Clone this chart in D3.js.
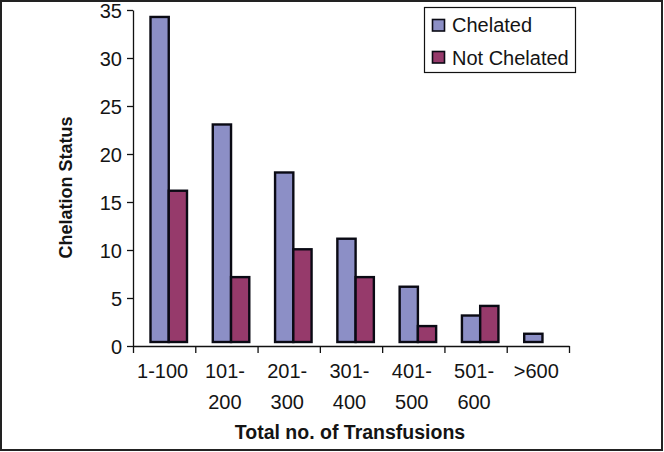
<!DOCTYPE html>
<html>
<head>
<meta charset="utf-8">
<script src="https://cdn.jsdelivr.net/npm/d3@7"></script>
<style>
  body { margin: 0; background: #fff; }
  svg text { font-family: "Liberation Sans", Arial, sans-serif; fill: #141414; }
</style>
</head>
<body>
<script>
// values
const categories = ["1-100", "101-200", "201-300", "301-400", "401-500", "501-600", ">600"];
const tickLines = [["1-100"], ["101-", "200"], ["201-", "300"], ["301-", "400"], ["401-", "500"], ["501-", "600"], [">600"]];
const series = ["Chelated", "Not Chelated"];
const chelated = [34.4, 23.2, 18.2, 11.3, 6.3, 3.3, 1.4];
const notChelated = [16.3, 7.3, 10.2, 7.3, 2.2, 4.3, 0];
const yTicks = [0, 5, 10, 15, 20, 25, 30, 35];
const colors = ["#8c8fc6", "#963a6b"];

const W = 664, H = 452;
const svg = d3.select("body").append("svg").attr("width", W).attr("height", H);

// outer frame
svg.append("rect")
    .attr("x", 1).attr("y", 1).attr("width", W - 3).attr("height", H - 3)
    .attr("fill", "#fff").attr("stroke", "#222").attr("stroke-width", 2);

const x = d3.scaleBand().domain(categories).range([133, 569]);
const xEdges = d3.scaleLinear().domain([0, categories.length]).range([133, 569]);
const y = d3.scaleLinear().domain([0, 35]).range([346, 10]);
const xs = d3.scaleBand().domain(series).range([17.5, 54]);

// bars
const rows = categories.map((c, i) => ({ c, vals: [chelated[i], notChelated[i]] }));
const g = svg.append("g");
rows.forEach(r => {
    r.vals.forEach((v, j) => {
        if (!v) return;
        g.append("rect")
            .attr("x", x(r.c) + xs(series[j]))
            .attr("y", y(v) + 1.2)
            .attr("width", xs.bandwidth())
            .attr("height", y(0) - 4 - (y(v) + 1.2))
            .attr("fill", colors[j])
            .attr("stroke", "#0a0a14")
            .attr("stroke-width", 2.4);
    });
});

// y axis
const yAxis = svg.append("g")
    .attr("transform", "translate(133,0)")
    .call(d3.axisLeft(y).tickValues(yTicks).tickSize(6).tickSizeOuter(0).tickPadding(5));
yAxis.selectAll("path, line").attr("stroke", "#111").attr("stroke-width", 1.3);
yAxis.selectAll("text").style("font-size", "20px").attr("dy", "0.36em");

// x axis (ticks at band edges)
const xAxis = svg.append("g")
    .attr("transform", "translate(0,346)")
    .call(d3.axisBottom(xEdges).tickValues(d3.range(categories.length + 1)).tickSize(7).tickSizeOuter(0).tickFormat(""));
xAxis.selectAll("path, line").attr("stroke", "#111").attr("stroke-width", 1.3);

// category labels
categories.forEach((c, i) => {
    const t = svg.append("text")
        .attr("text-anchor", "middle")
        .style("font-size", "20px");
    tickLines[i].forEach((line, k) => {
        t.append("tspan")
            .attr("x", x(c) + x.bandwidth() / 2 - 1.5)
            .attr("y", 378 + k * 31)
            .text(line);
    });
});

// axis titles
svg.append("text")
    .attr("x", 350).attr("y", 439)
    .attr("text-anchor", "middle")
    .style("font-size", "19.5px").style("font-weight", "bold")
    .text("Total no. of Transfusions");

svg.append("text")
    .attr("transform", "translate(72,187.5) rotate(-90)")
    .attr("text-anchor", "middle")
    .style("font-size", "18px").style("font-weight", "bold")
    .text("Chelation Status");

// legend
const legend = svg.append("g");
legend.append("rect")
    .attr("x", 424.5).attr("y", 7.5).attr("width", 151).attr("height", 65)
    .attr("fill", "#fff").attr("stroke", "#111").attr("stroke-width", 1.2);
series.forEach((s, i) => {
    legend.append("rect")
        .attr("x", 432.5).attr("y", 19.5 + i * 32).attr("width", 12).attr("height", 11.5)
        .attr("fill", colors[i]).attr("stroke", "#0a0a14").attr("stroke-width", 1.6);
    legend.append("text")
        .attr("x", 452).attr("y", 32 + i * 33)
        .style("font-size", "20px")
        .text(s);
});
</script>
</body>
</html>
